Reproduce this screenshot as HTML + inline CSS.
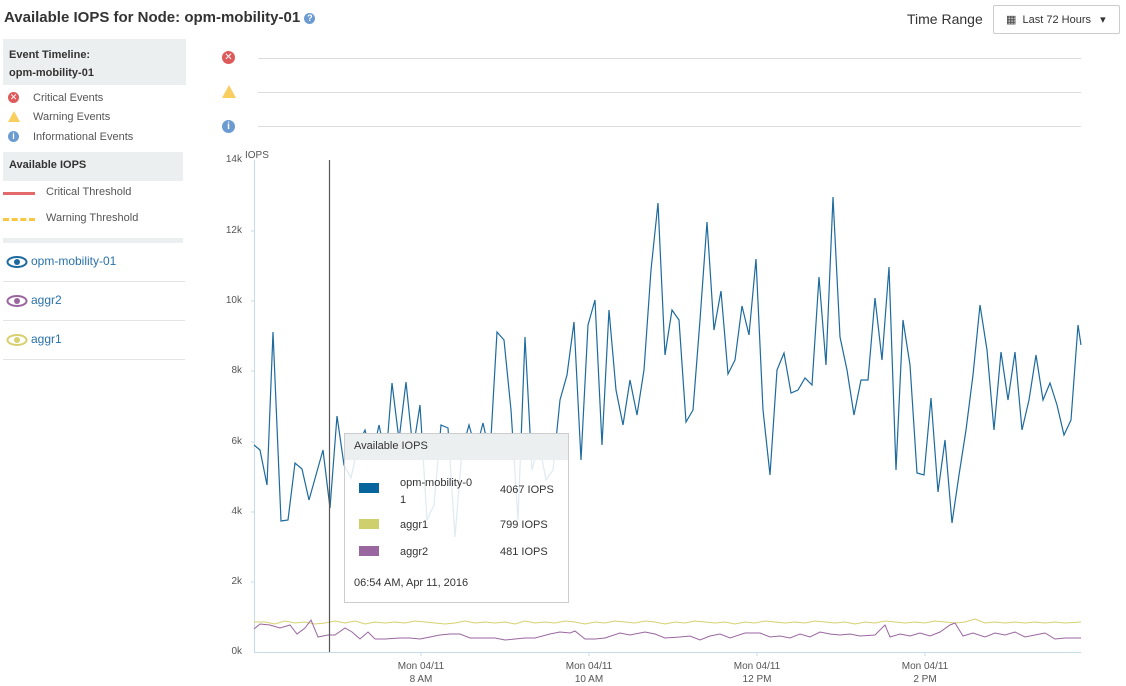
<!DOCTYPE html><html><head><style>
body{margin:0;width:1126px;height:686px;background:#fff;font-family:"Liberation Sans",sans-serif;position:relative;overflow:hidden;color:#333}
.a{position:absolute;white-space:nowrap}
.box{position:absolute;background:#eceff0}
.lg{font-size:11px;color:#555}
.ser{font-size:12px;color:#2a72a8}
.sep{position:absolute;left:3px;width:182px;height:1px;background:#e4e4e4}
.yl{position:absolute;font-size:10px;color:#555;width:20px;text-align:right;left:222px}
.xl{position:absolute;font-size:10px;color:#555;text-align:center;width:80px;line-height:13px}
</style></head><body>
<div class="a" style="left:4px;top:9px;font-size:15px;font-weight:bold;color:#333">Available IOPS for Node: opm-mobility-01 <span style="display:inline-block;width:11px;height:11px;border-radius:50%;background:#6b9bd0;color:#fff;font-size:9px;text-align:center;line-height:11px;vertical-align:1px">?</span></div>
<div class="a" style="left:907px;top:11px;font-size:14px;color:#333">Time Range</div>
<div class="a" style="left:993px;top:5px;width:127px;height:29px;border:1px solid #ccc;border-radius:2px;font-size:11px;line-height:29px;color:#333;box-sizing:border-box;padding-left:12px">▦&nbsp; Last 72 Hours &nbsp;&nbsp;▾</div>

<div class="box" style="left:3px;top:39px;width:183px;height:46px"></div>
<div class="a" style="left:9px;top:46px;font-size:11px;font-weight:bold;line-height:18px">Event Timeline:<br>opm-mobility-01</div>
<div class="a" style="left:8px;top:92px;width:11px;height:11px;border-radius:50%;background:#de5a5a;color:#fff;font-size:9px;line-height:11px;text-align:center">✕</div>
<div class="a lg" style="left:33px;top:92px">Critical Events</div>
<div class="a" style="left:8px;top:111px;width:0;height:0;border-left:6px solid transparent;border-right:6px solid transparent;border-bottom:11px solid #f8cf5e"></div>
<div class="a lg" style="left:33px;top:111px">Warning Events</div>
<div class="a" style="left:8px;top:131px;width:11px;height:11px;border-radius:50%;background:#6b9bd0;color:#fff;font-size:9px;line-height:11px;text-align:center;font-weight:bold">i</div>
<div class="a lg" style="left:33px;top:131px">Informational Events</div>
<div class="box" style="left:3px;top:152px;width:180px;height:29px"></div>
<div class="a" style="left:9px;top:159px;font-size:11px;font-weight:bold">Available IOPS</div>
<div class="a" style="left:3px;top:192px;width:32px;height:3px;background:#e26a6a"></div>
<div class="a lg" style="left:46px;top:186px">Critical Threshold</div>
<div class="a" style="left:3px;top:218px;width:32px;height:0;border-top:3px dashed #f8c640"></div>
<div class="a lg" style="left:46px;top:212px">Warning Threshold</div>
<div class="box" style="left:3px;top:238px;width:180px;height:5px"></div>
<svg class="a" style="left:6px;top:256px" width="22" height="12"><ellipse cx="11" cy="6" rx="9.5" ry="5" fill="none" stroke="#1d6a9e" stroke-width="2"/><circle cx="11" cy="6" r="3" fill="#1d6a9e"/></svg>
<div class="a ser" style="left:31px;top:254px">opm-mobility-01</div>
<div class="sep" style="top:281px"></div>
<svg class="a" style="left:6px;top:295px" width="22" height="12"><ellipse cx="11" cy="6" rx="9.5" ry="5" fill="none" stroke="#9a66a0" stroke-width="2"/><circle cx="11" cy="6" r="3" fill="#9a66a0"/></svg>
<div class="a ser" style="left:31px;top:293px">aggr2</div>
<div class="sep" style="top:320px"></div>
<svg class="a" style="left:6px;top:334px" width="22" height="12"><ellipse cx="11" cy="6" rx="9.5" ry="5" fill="none" stroke="#d6d070" stroke-width="2"/><circle cx="11" cy="6" r="3" fill="#d6d070"/></svg>
<div class="a ser" style="left:31px;top:332px">aggr1</div>
<div class="sep" style="top:359px"></div>

<div class="a" style="left:222px;top:51px;width:13px;height:13px;border-radius:50%;background:#de5a5a;color:#fff;font-size:10px;line-height:13px;text-align:center">✕</div>
<div class="a" style="left:222px;top:85px;width:0;height:0;border-left:7px solid transparent;border-right:7px solid transparent;border-bottom:13px solid #f8cf5e"></div>
<div class="a" style="left:222px;top:120px;width:13px;height:13px;border-radius:50%;background:#6b9bd0;color:#fff;font-size:10px;line-height:13px;text-align:center;font-weight:bold">i</div>

<div class="yl" style="top:154px">14k</div>
<div class="yl" style="top:225px">12k</div>
<div class="yl" style="top:295px">10k</div>
<div class="yl" style="top:365px">8k</div>
<div class="yl" style="top:436px">6k</div>
<div class="yl" style="top:506px">4k</div>
<div class="yl" style="top:576px">2k</div>
<div class="yl" style="top:646px">0k</div>
<div class="a" style="left:245px;top:150px;font-size:10px;color:#555">IOPS</div>
<div class="xl" style="left:381px;top:660px">Mon 04/11<br>8 AM</div>
<div class="xl" style="left:549px;top:660px">Mon 04/11<br>10 AM</div>
<div class="xl" style="left:717px;top:660px">Mon 04/11<br>12 PM</div>
<div class="xl" style="left:885px;top:660px">Mon 04/11<br>2 PM</div>

<svg class="a" style="left:0;top:0" width="1126" height="686">
<g stroke="#ddd" stroke-width="1"><line x1="258" y1="58.5" x2="1081" y2="58.5"/><line x1="258" y1="92.5" x2="1081" y2="92.5"/><line x1="258" y1="126.5" x2="1081" y2="126.5"/></g>
<line x1="254.5" y1="160" x2="254.5" y2="652" stroke="#c5dbe8"/>
<line x1="254" y1="652.5" x2="1081" y2="652.5" stroke="#c5dbe8"/>
<g stroke="#c5dbe8"><line x1="251" y1="231" x2="254" y2="231"/><line x1="251" y1="301" x2="254" y2="301"/><line x1="251" y1="371" x2="254" y2="371"/><line x1="251" y1="442" x2="254" y2="442"/><line x1="251" y1="512" x2="254" y2="512"/><line x1="251" y1="582" x2="254" y2="582"/><line x1="421" y1="652" x2="421" y2="656"/><line x1="589" y1="652" x2="589" y2="656"/><line x1="757" y1="652" x2="757" y2="656"/><line x1="925" y1="652" x2="925" y2="656"/></g>
<polyline fill="none" stroke="#1d6a9e" stroke-width="1.2" points="254,445 260,450 267,485 273,332 281,521 288,520 295,463 302,469 309,500 316,475 323,450 330,508 337,416 344,465 351,478 358,445 365,430 372,458 379,425 386,458 392,383 399,440 406,382 413,450 420,405 427,520 434,505 441,425 448,428 455,537 462,450 469,425 476,450 483,423 490,455 497,332 504,340 511,410 518,520 525,337 532,470 539,443 546,480 553,470 560,400 567,375 574,322 581,460 588,325 595,300 602,445 609,310 616,390 623,425 630,380 637,415 644,370 651,270 658,203 665,355 672,310 679,320 686,422 693,410 700,320 707,222 714,330 721,291 728,374 735,360 742,306 749,335 756,259 763,410 770,475 777,370 784,353 791,393 798,390 805,378 812,385 819,277 826,365 833,197 840,337 847,370 854,415 861,380 868,380 875,298 882,360 889,267 896,470 903,320 910,365 917,473 924,475 931,398 938,492 945,440 952,523 959,475 966,430 973,375 980,305 987,350 994,430 1001,352 1008,400 1015,352 1022,430 1029,400 1036,355 1043,400 1050,383 1057,405 1064,435 1071,420 1078,325 1081,345"/>
<polyline fill="none" stroke="#d6d070" stroke-width="1" points="254,611 265,611 275,613 285,610 295,612 305,611 315,613 325,612 335,610 345,612 355,610 365,613 375,611 385,612 395,611 405,612 415,610 425,611 435,612 445,613 455,612 465,610 475,612 485,611 495,612 505,611 515,613 525,610 535,612 545,611 555,612 565,610 575,611 585,613 595,611 605,612 615,610 625,611 635,612 645,610 655,611 665,613 675,611 685,612 695,610 705,611 715,612 725,611 735,613 745,611 755,612 765,610 775,611 785,612 795,611 805,612 815,610 825,611 835,612 845,611 855,613 865,611 875,612 885,610 895,611 905,612 915,611 925,612 935,610 945,611 955,612 965,611 975,608 985,612 995,611 1005,612 1015,611 1025,612 1035,611 1045,612 1055,611 1065,612 1081,611" transform="translate(0,11)"/>
<polyline fill="none" stroke="#9a66a0" stroke-width="1" points="254,617 260,612 270,613 280,616 290,613 297,622 305,616 311,608 318,625 328,623 335,623 345,616 352,620 360,627 368,620 375,627 385,627 400,626 410,626 420,627 430,625 440,623 450,622 460,622 470,626 480,626 495,626 505,628 515,627 525,626 535,626 550,622 560,620 570,621 575,619 585,627 595,627 605,626 620,621 630,623 645,620 655,622 665,626 680,625 690,624 700,628 710,624 720,622 730,626 745,621 760,621 770,625 780,624 790,626 800,622 810,625 820,620 830,622 840,623 850,622 860,624 875,623 885,613 890,625 900,622 910,624 920,621 930,624 940,620 950,613 955,611 963,624 973,621 985,625 995,621 1005,623 1015,620 1025,625 1035,623 1045,621 1055,627 1065,626 1081,626" transform="translate(0,12)"/>
<line x1="329.5" y1="160" x2="329.5" y2="652" stroke="#555" stroke-width="1.2"/>
<rect x="344.5" y="433.5" width="224" height="169" fill="rgba(255,255,255,0.86)" stroke="#ccc"/>
<rect x="345" y="434" width="223" height="26" fill="#eceff0"/>
<rect x="359" y="483" width="20" height="10" fill="#06659c"/>
<rect x="359" y="519" width="20" height="10" fill="#d0cf6e"/>
<rect x="359" y="546" width="20" height="10" fill="#9a66a0"/>
</svg>
<div class="a" style="left:354px;top:440px;font-size:11px;color:#333">Available IOPS</div>
<div class="a" style="left:400px;top:475px;font-size:11px;color:#333;line-height:17px">opm-mobility-0<br>1</div>
<div class="a" style="left:500px;top:484px;font-size:11px;color:#333">4067 IOPS</div>
<div class="a" style="left:400px;top:519px;font-size:11px;color:#333">aggr1</div>
<div class="a" style="left:500px;top:519px;font-size:11px;color:#333">799 IOPS</div>
<div class="a" style="left:400px;top:546px;font-size:11px;color:#333">aggr2</div>
<div class="a" style="left:500px;top:546px;font-size:11px;color:#333">481 IOPS</div>
<div class="a" style="left:354px;top:577px;font-size:11px;color:#333">06:54 AM, Apr 11, 2016</div>
</body></html>
